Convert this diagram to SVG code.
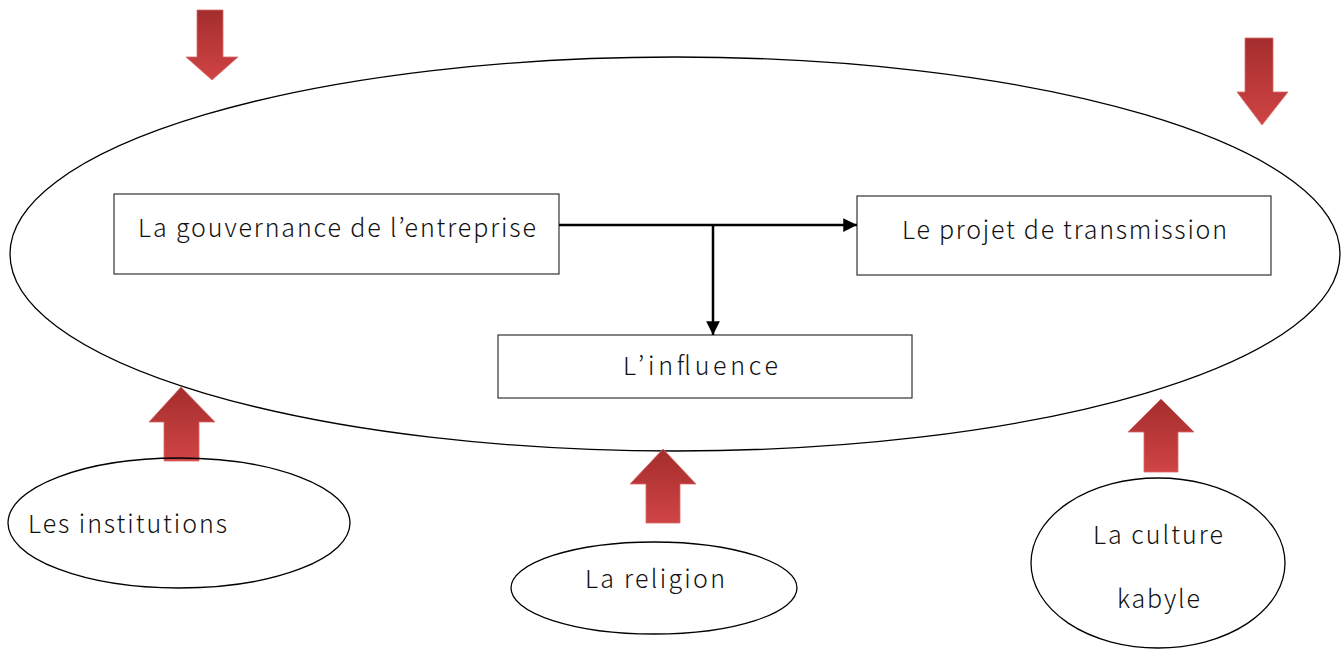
<svg xmlns="http://www.w3.org/2000/svg" width="1343" height="649" viewBox="0 0 1343 649">
<defs>
<linearGradient id="red" x1="0" y1="0" x2="0" y2="1">
<stop offset="0" stop-color="#a42d2d"/>
<stop offset="1" stop-color="#d04444"/>
</linearGradient>
<marker id="ah" viewBox="0 0 10 10" refX="10" refY="5" markerWidth="5.5" markerHeight="5.5" orient="auto" markerUnits="strokeWidth">
<path d="M0,0 L10,5 L0,10 z" fill="#000"/>
</marker>
<style>
.el{fill:none;stroke:#000;stroke-width:1.3}
.bx{fill:#fff;stroke:#333;stroke-width:1.2}
.t{font-family:"Noto Sans CJK JP","Noto Sans",sans-serif;font-size:25px;font-weight:300;fill:#111}
.arr{fill:url(#red);stroke:#d96b6b;stroke-width:0.8}
.cn{fill:none;stroke:#000;stroke-width:2.5}
</style>
</defs>
<rect width="1343" height="649" fill="#fff"/>
<g id="context">
<ellipse class="el" cx="675" cy="254" rx="665" ry="197"/>
</g>
<g id="arrow-top-left"><path class="arr" d="M197,10 H223 V57 H238 L212,80 L186,57 H197 Z"/></g>
<g id="arrow-top-right"><path class="arr" d="M1245,38 H1273 V92 H1288 L1262,125 L1237,92 H1245 Z"/></g>
<g id="arrow-institutions"><path class="arr" d="M164,461 V422 H149 L181,387 L215,422 H199 V461 Z"/></g>
<g id="arrow-religion"><path class="arr" d="M646,523 V484 H630 L663,449 L696,484 H680 V523 Z"/></g>
<g id="arrow-culture"><path class="arr" d="M1144,472 V432 H1128 L1161,399 L1194,432 H1178 V472 Z"/></g>
<g id="gouvernance">
<rect class="bx" x="114" y="194" width="445" height="80"/>
<text class="t" x="138" y="237" textLength="398" lengthAdjust="spacing">La gouvernance de l’entreprise</text>
</g>
<g id="projet">
<rect class="bx" x="857" y="196" width="414" height="79"/>
<text class="t" x="902" y="239" textLength="325" lengthAdjust="spacing">Le projet de transmission</text>
</g>
<g id="influence">
<rect class="bx" x="498" y="335" width="414" height="63"/>
<text class="t" x="623" y="375" textLength="155" lengthAdjust="spacing">L’influence</text>
</g>
<g id="connectors">
<path class="cn" d="M559,225 H857" marker-end="url(#ah)"/>
<path class="cn" d="M713,225 V335" marker-end="url(#ah)"/>
</g>
<g id="institutions">
<ellipse class="el" cx="179" cy="523" rx="171" ry="65"/>
<text class="t" x="28" y="533" textLength="199" lengthAdjust="spacing">Les institutions</text>
</g>
<g id="religion">
<ellipse class="el" cx="654" cy="588" rx="143" ry="46"/>
<text class="t" x="585" y="588" textLength="140" lengthAdjust="spacing">La religion</text>
</g>
<g id="culture">
<ellipse class="el" cx="1158" cy="563" rx="127" ry="85"/>
<text class="t" x="1093" y="544" textLength="130" lengthAdjust="spacing">La culture</text>
<text class="t" x="1117" y="608" textLength="83" lengthAdjust="spacing">kabyle</text>
</g>
</svg>
